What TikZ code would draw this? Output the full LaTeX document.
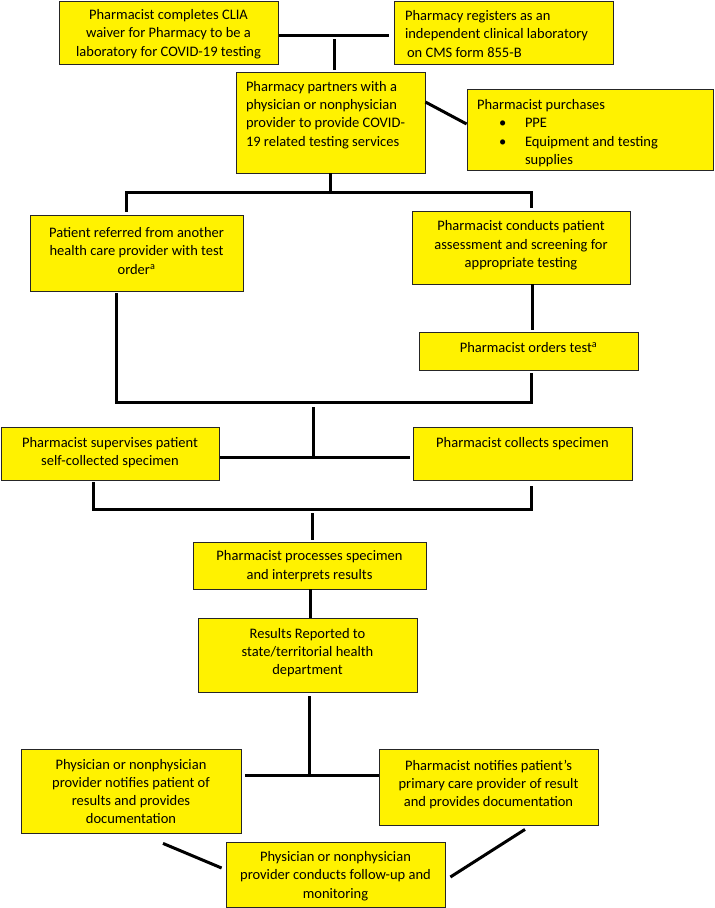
\documentclass[tikz,border=0pt]{standalone}
\usepackage{fontspec}
\setmainfont{Carlito}
\newcommand\ctx[4]{\parbox[c][#2pt][c]{#1pt}{\centering #4\par\vspace*{#3pt}}}
\newcommand\ltx[5]{\parbox[c][#2pt][c]{#1pt}{\raggedright\leftskip=#4pt #5\par\vspace*{#3pt}}}
\begin{document}
\begin{tikzpicture}[x=1pt,y=-1pt,
  box/.style={draw=black!85, line width=0.8pt, fill=yellow, inner sep=0pt, font=\fontsize{14.5}{18.3}\selectfont},
  conn/.style={draw=black, line width=3pt}]
\useasboundingbox (0,0) rectangle (715,908);

\node[box] (a) at (168.5,32.5) {\ctx{219}{63}{-3}{Pharmacist completes CLIA\\ waiver for Pharmacy to be a\\ laboratory for COVID-19 testing}};
\node[box] (b) at (503.5,32.5) {\ltx{219}{63}{-3}{11}{Pharmacy registers as an\\ independent clinical laboratory\\ \hspace*{2pt}on CMS form 855-B}};
\node[box] (c) at (330.5,122.5) {\ltx{189}{101}{15}{10}{Pharmacy partners with a\\ physician or nonphysician\\ provider to provide COVID-\\ 19 related testing services}};
\node[box] (d) at (590,129.5) {\ltx{246}{81}{-7}{10}{Pharmacist purchases\\ \makebox[48pt][l]{\hspace*{22pt}\textbullet}PPE\\ \makebox[48pt][l]{\hspace*{22pt}\textbullet}Equipment and testing\\ \hspace*{48pt}supplies}};
\node[box] (e) at (136.5,253) {\ctx{213}{76}{4}{Patient referred from another\\ health care provider with test\\ order\textsuperscript{a}}};
\node[box] (f) at (521,247.5) {\ctx{218}{73}{4}{Pharmacist conducts patient\\ assessment and screening for\\ appropriate testing}};
\node[box] (g) at (528.5,351) {\ctx{219}{38}{7}{Pharmacist orders test\textsuperscript{a}}};
\node[box] (h) at (110,453.5) {\ctx{218}{53}{2}{Pharmacist supervises patient\\ self-collected specimen}};
\node[box] (i) at (522.5,453.5) {\ctx{219}{53}{20}{Pharmacist collects specimen}};
\node[box] (j) at (309.5,565.5) {\ctx{233}{47}{-1}{Pharmacist processes specimen\\ and interprets results}};
\node[box] (k) at (307.5,655) {\ctx{219}{74}{5}{Results Reported to\\ state/territorial health\\ department}};
\node[box] (l) at (131,791) {\ctx{220}{84}{-1}{Physician or nonphysician\\ provider notifies patient of\\ results and provides\\ documentation}};
\node[box] (m) at (488.5,787) {\ctx{219}{76}{5}{Pharmacist notifies patient’s\\ primary care provider of result\\ and provides documentation}};
\node[box] (n) at (335.5,874.5) {\ctx{219}{65}{-3}{Physician or nonphysician\\ provider conducts follow-up and\\ monitoring}};

\coordinate (j1) at (334,35);
\coordinate (j2) at (330,192);
\coordinate (j3) at (313,402);
\coordinate (j4) at (313,457);
\coordinate (j5) at (312,509);
\coordinate (j6) at (309,775);

\draw[conn, shorten <=1pt, shorten >=5pt] (a.east |- j1) -- (b.west |- j1);
\draw[conn, shorten <=4pt, shorten >=2pt] (j1) -- (c.north -| j1);
\draw[conn] ([shift={(0,-20.5)}]c.east) -- ([shift={(0,-5.5)}]d.west);
\draw[conn] (c.south -| j2) -- (j2);
\draw[conn, shorten <=3pt, shorten >=3pt] (e.north -| 126,0) |- (j2) -| (f.north -| 531,0);
\draw[conn, shorten >=2pt] (f.south -| 532,0) -- (g.north -| 532,0);
\draw[conn, shorten <=2pt, shorten >=3pt] (e.south -| 116,0) |- (j3) -| (g.south -| 531,0);
\draw[conn, shorten <=5pt] (j3) -- (j4);
\draw[conn, shorten <=1pt, shorten >=3pt] (h.east |- j4) -- (i.west |- j4);
\draw[conn, shorten <=2pt, shorten >=6pt] (h.south -| 93,0) |- (j5) -| (i.south -| 531,0);
\draw[conn, shorten <=4pt, shorten >=2pt] (j5) -- (j.north -| j5);
\draw[conn] (j.south -| 310,0) -- (k.north -| 310,0);
\draw[conn, shorten <=4pt] (k.south -| j6) -- (j6);
\draw[conn, shorten <=4pt] (l.east |- j6) -- (m.west |- j6);
\draw[conn] ([shift={(32,10)}]l.south) -- ([shift={(-4,-6.5)}]n.west);
\draw[conn] ([shift={(36.5,4)}]m.south) -- ([shift={(5,2.5)}]n.east);
\end{tikzpicture}
\end{document}
